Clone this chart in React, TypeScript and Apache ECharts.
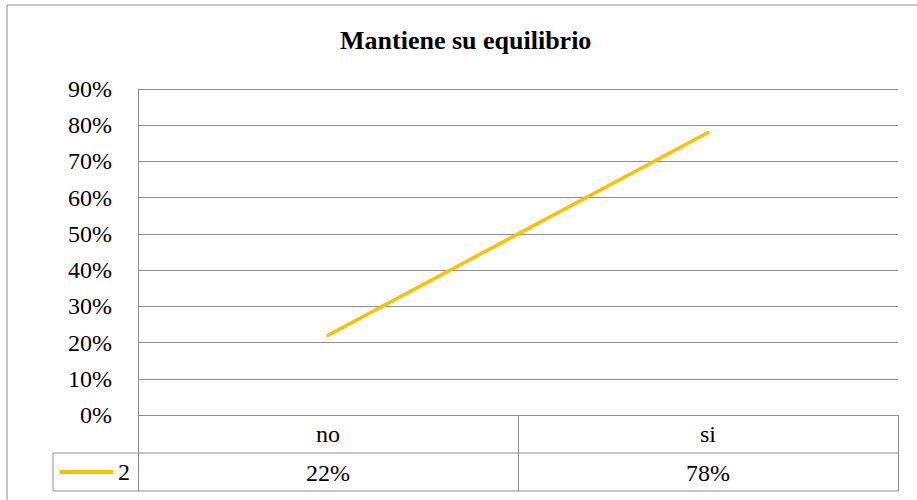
import React, { useEffect, useRef } from "react";
import * as echarts from "echarts";

const title = "Mantiene su equilibrio";
const categories = ["no", "si"];
const seriesName = "2";
const values = [22, 78];
const yMin = 0;
const yMax = 90;
const yInterval = 10;

const W = 917;
const H = 500;
const GL = 138;
const GR = 898;
const GT = 89;
const GB = 415;
const ROW = 38;
const LEG_X = 53;
const GRID_COLOR = "#8c8c8c";
const FONT = "Liberation Serif";
const FS = 24;

export default function App() {
  const ref = useRef<HTMLDivElement>(null);
  useEffect(() => {
    if (!ref.current) return;
    const chart = echarts.init(ref.current, undefined, { renderer: "svg" });
    const line = (x1: number, y1: number, x2: number, y2: number) => ({
      type: "line",
      shape: { x1, y1, x2, y2 },
      style: { stroke: GRID_COLOR, lineWidth: 1 },
      silent: true,
    });
    chart.setOption({
      animation: false,
      backgroundColor: "#fff",
      title: {
        text: title,
        left: 340,
        top: 27,
        padding: 0,
        textStyle: { fontFamily: FONT, fontWeight: "bold", fontSize: 26, color: "#000" },
      },
      grid: { left: GL, right: W - GR, top: GT, bottom: H - GB, containLabel: false },
      legend: {
        show: true,
        data: [seriesName],
        left: 60,
        top: 460,
        padding: 0,
        icon: "rect",
        itemWidth: 53,
        itemHeight: 4,
        textStyle: { fontFamily: FONT, fontSize: FS, color: "#000" },
        selectedMode: false,
      },
      xAxis: [
        {
          type: "category",
          data: categories,
          boundaryGap: true,
          axisLine: { show: true, lineStyle: { color: GRID_COLOR, width: 1 } },
          axisTick: { show: true, length: ROW * 2, inside: false, lineStyle: { color: GRID_COLOR, width: 1 } },
          axisLabel: { margin: 7, fontFamily: FONT, fontSize: FS, color: "#000" },
          splitLine: { show: false },
        },
        {
          type: "category",
          data: values.map((v) => `${v}%`),
          position: "bottom",
          offset: ROW,
          boundaryGap: true,
          axisLine: { show: false },
          axisTick: { show: false },
          axisLabel: { margin: 8, fontFamily: FONT, fontSize: FS, color: "#000" },
          splitLine: { show: false },
        },
      ],
      yAxis: {
        type: "value",
        min: yMin,
        max: yMax,
        interval: yInterval,
        axisLine: { show: true, lineStyle: { color: GRID_COLOR, width: 1 } },
        axisTick: { show: false },
        axisLabel: {
          formatter: "{value}%",
          margin: 26,
          fontFamily: FONT,
          fontSize: FS,
          color: "#000",
        },
        splitLine: { show: true, lineStyle: { color: GRID_COLOR, width: 1 } },
      },
      series: [
        {
          name: seriesName,
          type: "line",
          data: values,
          symbol: "none",
          color: "#FFC000",
          lineStyle: { color: "#FFC000", width: 3.5, cap: "round" },
        },
      ],
      graphic: [
        {
          type: "rect",
          shape: { x: 7, y: 5, width: 940, height: 540 },
          style: { fill: "none", stroke: "#8c8c8c", lineWidth: 1 },
          silent: true,
          z: -1,
        },
        line(LEG_X, GB + ROW, GR, GB + ROW),
        line(LEG_X, GB + 2 * ROW, GR, GB + 2 * ROW),
        line(LEG_X, GB + ROW, LEG_X, GB + 2 * ROW),
      ],
    });
    return () => chart.dispose();
  }, []);
  return (
    <div
      ref={ref}
      style={{ position: "fixed", left: 0, top: 0, width: W, height: H }}
    />
  );
}
